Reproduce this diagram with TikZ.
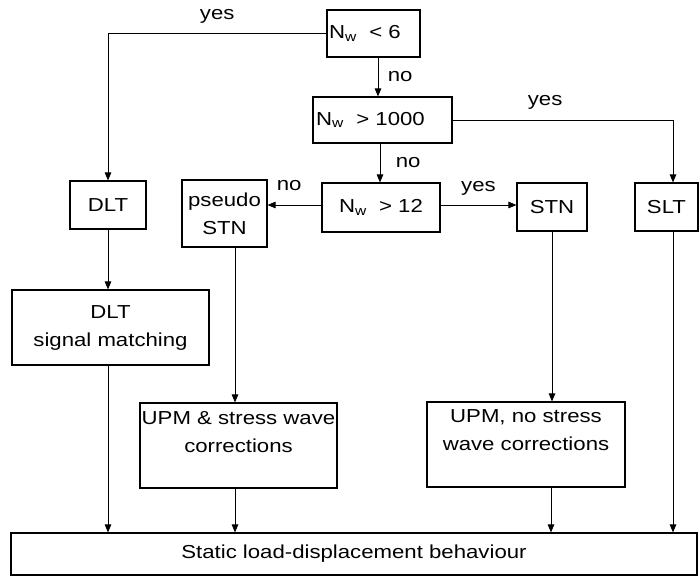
\documentclass[tikz,border=0pt]{standalone}
\usepackage{fontspec}
\setmainfont{Liberation Sans}[FakeStretch=1.18]
\usetikzlibrary{arrows.meta}
\tikzset{
  box/.style={draw, line width=1.1pt, inner sep=0pt, align=center},
  flow/.style={line width=0.9pt, -{Triangle[length=8pt,width=6.5pt]}},
}
\begin{document}
\begin{tikzpicture}[x=1pt,y=-1pt,font=\fontsize{18.8}{28}\selectfont]
			\useasboundingbox (0,0) rectangle (699,577);
			
			\node[box, minimum width=93, minimum height=47, text width=89, align=left] (lt6) at (373.5,33.5) {N\textsubscript{w}\ \ < 6};
			\node[box, minimum width=139, minimum height=46, text width=133, align=left] (gt1000) at (382.5,120) {N\textsubscript{w}\ \ > 1000};
			\node[box, minimum width=118, minimum height=49] (gt12) at (381,207.5) {N\textsubscript{w}\ \ > 12};
			\node[box, minimum width=76, minimum height=48] (dlt) at (108,205) {DLT};
			\node[box, minimum width=85, minimum height=67] (pstn) at (224.5,213.5) {pseudo\\STN};
			\node[box, minimum width=70, minimum height=48] (stn) at (552,207) {STN};
			\node[box, minimum width=63, minimum height=48] (slt) at (666.5,207) {SLT};
			\node[box, minimum width=197, minimum height=75] (sig) at (110.5,327.5) {DLT\\signal matching};
			\node[box, minimum width=197, minimum height=85] (upm1) at (238.5,445.5) {UPM \& stress wave\\corrections\\};
			\node[box, minimum width=198, minimum height=85] (upm2) at (526,444.5) {UPM, no stress\\wave corrections\\};
			\node[box, minimum width=686, minimum height=42] (static) at (354,554) {Static load-displacement behaviour};
			
			\draw[flow] (lt6.west) -| (dlt.north) node[pos=0.25, above=6pt] {yes};
			\draw[flow] ([xshift=4.5pt]lt6.south) -- ([xshift=4.5pt]lt6.south |- gt1000.north) node[midway, right=6pt] {no};
			\draw[flow] (gt1000.east) -| ([xshift=6.5pt]slt.north) node[pos=0.21, above=7pt] {yes};
			\draw[flow] ([xshift=-2.5pt]gt1000.south) -- ([xshift=-2.5pt]gt1000.south |- gt12.north) node[midway, right=12pt] {no};
			\draw[flow] ([yshift=2.5pt]gt12.east) -- ([yshift=2.5pt]gt12.east -| stn.west) node[midway, above=6pt] {yes};
			\draw[flow] ([yshift=2.5pt]gt12.west) -- ([yshift=2.5pt]gt12.west -| pstn.east) node[pos=0.6, above=11pt] {no};
			
			\draw[flow] (dlt.south) -- (dlt.south |- sig.north);
			\draw[flow] ([xshift=-2.5pt]sig.south) -- ([xshift=-2.5pt]sig.south |- static.north);
			\draw[flow] ([xshift=10.5pt]pstn.south) -- ([xshift=10.5pt]pstn.south |- upm1.north);
			\draw[flow] ([xshift=-3.5pt]upm1.south) -- ([xshift=-3.5pt]upm1.south |- static.north);
			\draw[flow] (stn.south) -- (stn.south |- upm2.north);
			\draw[flow] ([xshift=25pt]upm2.south) -- ([xshift=25pt]upm2.south |- static.north);
			\draw[flow] ([xshift=6.5pt]slt.south) -- ([xshift=6.5pt]slt.south |- static.north);
		\end{tikzpicture}
\end{document}
